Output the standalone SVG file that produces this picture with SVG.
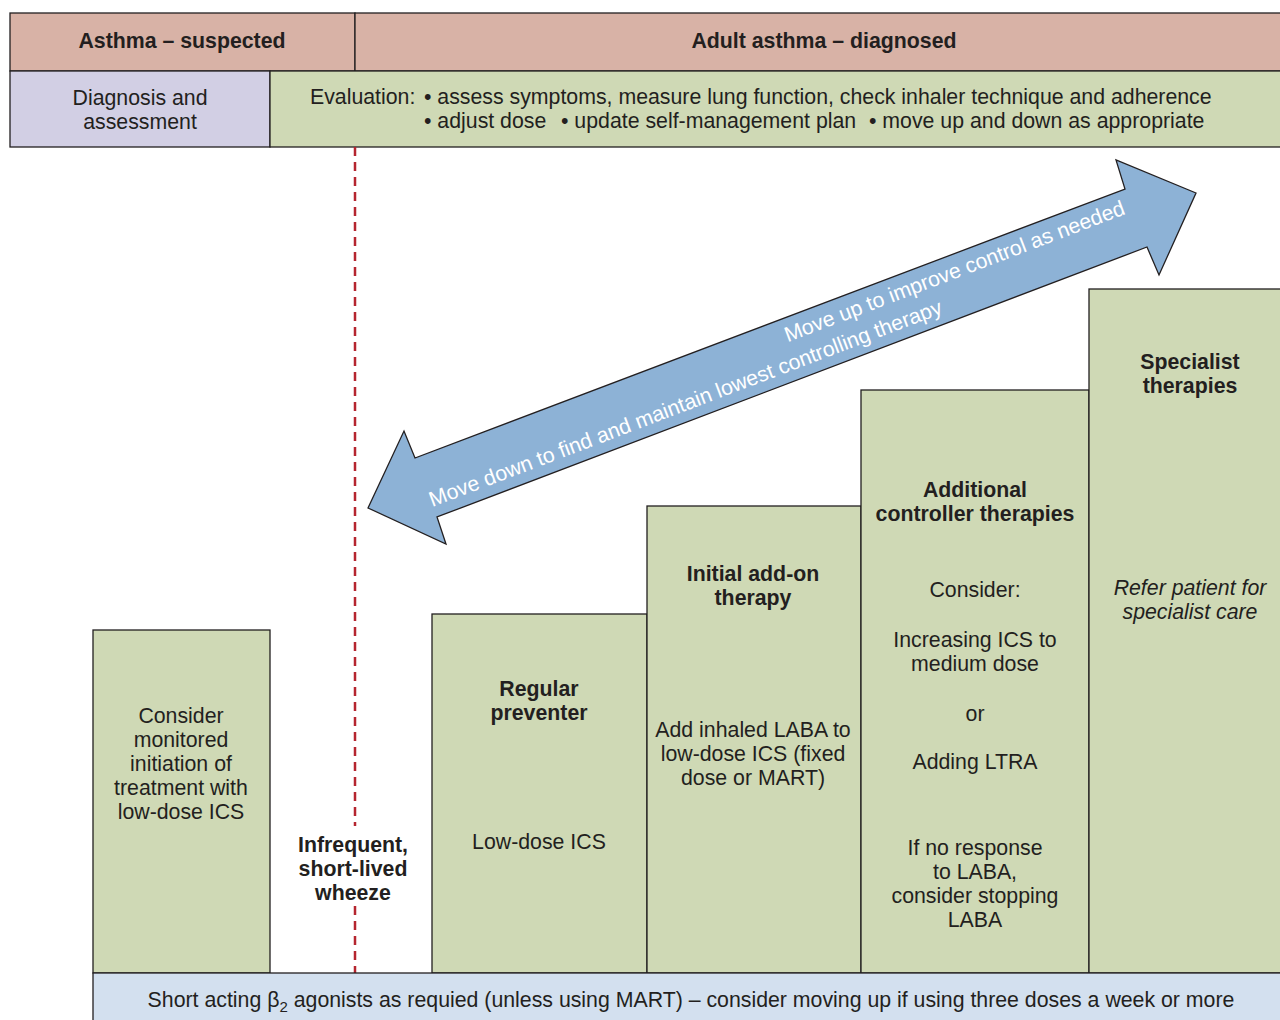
<svg xmlns="http://www.w3.org/2000/svg" width="1280" height="1020" viewBox="0 0 1280 1020">
<style>
text{font-family:"Liberation Sans",Arial,sans-serif;font-size:21.3px;fill:#231f20;text-anchor:middle}
.b{font-weight:bold}
.i{font-style:italic}
.l{text-anchor:start}
.box{stroke:#231f20;stroke-width:1.3}
.g{fill:#cfd9b5}
.p{fill:#d8b2a6}
.v{fill:#d2cfe4}
.arrowtxt{fill:#ffffff;font-size:21.3px}
</style>
<rect width="1280" height="1020" fill="#ffffff"/>
<g id="header-suspected"><rect class="box p" x="10" y="13" width="345" height="58"/><text class="b" x="182" y="48">Asthma – suspected</text></g>
<g id="header-diagnosed"><rect class="box p" x="355" y="13" width="930" height="58"/><text class="b" x="824" y="48">Adult asthma – diagnosed</text></g>
<g id="diagnosis"><rect class="box v" x="10" y="71" width="260" height="76"/><text x="140" y="105">Diagnosis and</text><text x="140" y="129">assessment</text></g>
<g id="evaluation"><rect class="box g" x="270" y="71" width="1015" height="76"/><text class="l" x="310" y="104">Evaluation:</text><text class="l" x="424" y="104">• assess symptoms, measure lung function, check inhaler technique and adherence</text><text class="l" x="424" y="128">• adjust dose</text><text class="l" x="561" y="128">• update self-management plan</text><text class="l" x="869" y="128">• move up and down as appropriate</text></g>
<g id="connectors">
<line x1="355" y1="147" x2="355" y2="826" stroke="#b5252f" stroke-width="2.5" stroke-dasharray="9,6"/>
<line x1="355" y1="906" x2="355" y2="973" stroke="#b5252f" stroke-width="2.5" stroke-dasharray="9,6"/>
</g>
<g id="step-arrow">
<polygon points="368,508 404,431 415,458 1125,189 1116,160 1196,193 1159,275 1147,247 437,517 446,544" fill="#8db2d6" stroke="#231f20" stroke-width="1.3" stroke-linejoin="miter"/>
<text class="arrowtxt" transform="translate(957,278) rotate(-20.8)">Move up to improve control as needed</text>
<text class="arrowtxt" transform="translate(688,410) rotate(-20.8)">Move down to find and maintain lowest controlling therapy</text>
</g>
<g id="consider-ics"><rect class="box g" x="93" y="630" width="177" height="343"/><text x="181" y="723">Consider</text><text x="181" y="747">monitored</text><text x="181" y="771">initiation of</text><text x="181" y="795">treatment with</text><text x="181" y="819">low-dose ICS</text></g>
<g id="wheeze"><text class="b" x="353" y="852">Infrequent,</text><text class="b" x="353" y="876">short-lived</text><text class="b" x="353" y="900">wheeze</text></g>
<g id="regular-preventer"><rect class="box g" x="432" y="614" width="215" height="359"/><text class="b" x="539" y="696">Regular</text><text class="b" x="539" y="720">preventer</text><text x="539" y="849">Low-dose ICS</text></g>
<g id="initial-add-on"><rect class="box g" x="647" y="506" width="214" height="467"/><text class="b" x="753" y="581">Initial add-on</text><text class="b" x="753" y="605">therapy</text><text x="753" y="737">Add inhaled LABA to</text><text x="753" y="761">low-dose ICS (fixed</text><text x="753" y="785">dose or MART)</text></g>
<g id="additional-controller"><rect class="box g" x="861" y="390" width="228" height="583"/><text class="b" x="975" y="497">Additional</text><text class="b" x="975" y="521">controller therapies</text><text x="975" y="597">Consider:</text><text x="975" y="647">Increasing ICS to</text><text x="975" y="671">medium dose</text><text x="975" y="721">or</text><text x="975" y="769">Adding LTRA</text><text x="975" y="855">If no response</text><text x="975" y="879">to LABA,</text><text x="975" y="903">consider stopping</text><text x="975" y="927">LABA</text></g>
<g id="specialist"><rect class="box g" x="1089" y="289" width="196" height="684"/><text class="b" x="1190" y="369">Specialist</text><text class="b" x="1190" y="393">therapies</text><text class="i" x="1190" y="595">Refer patient for</text><text class="i" x="1190" y="619">specialist care</text></g>
<g id="saba-bar"><rect class="box" x="93" y="973" width="1192" height="52" fill="#d3e0ef"/><text x="691" y="1007">Short acting β<tspan font-size="15" dy="5">2</tspan><tspan dy="-5"> agonists as requied (unless using MART) – consider moving up if using three doses a week or more</tspan></text></g>
</svg>
